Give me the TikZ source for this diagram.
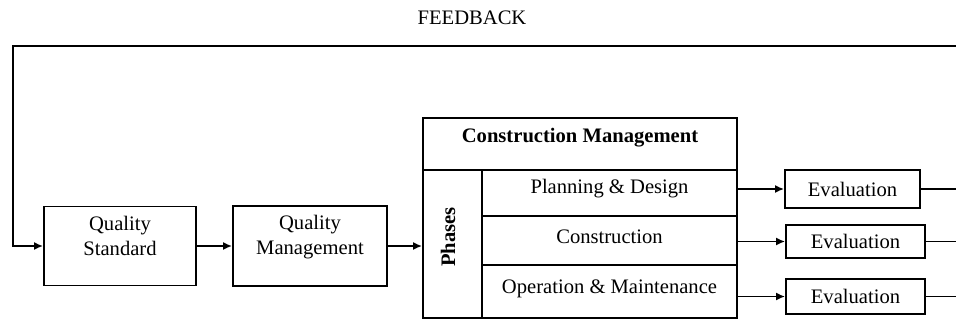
\documentclass[tikz,border=0pt]{standalone}
\usepackage{fontspec}
\setmainfont{Liberation Serif}
\usetikzlibrary{arrows.meta}

\tikzset{
  box/.style={draw, rectangle, line width=0.9pt, inner sep=0pt},
  txt/.style={anchor=base, align=center, inner sep=0pt},
  flow/.style={line width=0.9pt, -{Latex[length=4.5pt, width=4pt]}},
  wire/.style={line width=0.9pt}
}

\begin{document}
\begin{tikzpicture}[x=0.5pt, y=-0.5pt, font=\fontsize{10.3}{12.5}\selectfont]
\useasboundingbox (0,0) rectangle (956,320);

% boxes
\path (120,246) node[box, minimum width=76pt, minimum height=39.5pt] (qs) {}
(310,246) node[box, minimum width=77pt, minimum height=40pt] (qm) {}
(580,144) node[box, minimum width=157pt, minimum height=26pt] (cm) {}
(452.5,244) node[box, minimum width=29.5pt, minimum height=74pt] (ph) {}
(609.5,193) node[box, minimum width=127.5pt, minimum height=23pt] (pd) {}
(609.5,240.5) node[box, minimum width=127.5pt, minimum height=24.5pt] (con) {}
(609.5,291.5) node[box, minimum width=127.5pt, minimum height=26.5pt] (om) {}
(852.5,189) node[box, minimum width=67.5pt, minimum height=19pt] (ev1) {Evaluation}
(855.5,241.5) node[box, minimum width=69.5pt, minimum height=16.5pt] (ev2) {Evaluation}
(855.5,296.5) node[box, minimum width=69.5pt, minimum height=17.5pt] (ev3) {Evaluation};

% texts
\path (472,25) node[txt] (fb) {FEEDBACK}
(120,235.5) node[txt, anchor=center] (qs-t) {Quality\\Standard}
(310,237) node[txt, anchor=center] (qm-t) {Quality\\Management}
(580,143) node[txt] (cm-t) {\bfseries Construction Management}
(448,237) node[txt, anchor=center, rotate=90] (ph-t) {\bfseries Phases}
(609.5,193) node[txt] (pd-t) {Planning \& Design}
(609.5,243) node[txt] (con-t) {Construction}
(609.5,293) node[txt] (om-t) {Operation \& Maintenance};

\coordinate (fbR) at (956,46);
\coordinate (fbL) at (13,46);

\draw[flow] (fbR) -- (fbL) |- (qs.west);
\draw[flow] (qs) -- (qm);
\draw[flow] (qm.east) -- (qm.east -| ph.west);
\draw[flow] (ev1.west -| pd.east) -- (ev1.west);
\draw[flow] (ev2.west -| con.east) -- (ev2.west);
\draw[flow] (ev3.west -| om.east) -- (ev3.west);
\draw[wire] (ev1.east) -- (ev1.east -| fbR);
\draw[wire] (ev2.east) -- (ev2.east -| fbR);
\draw[wire] (ev3.east) -- (ev3.east -| fbR);
\end{tikzpicture}
\end{document}
